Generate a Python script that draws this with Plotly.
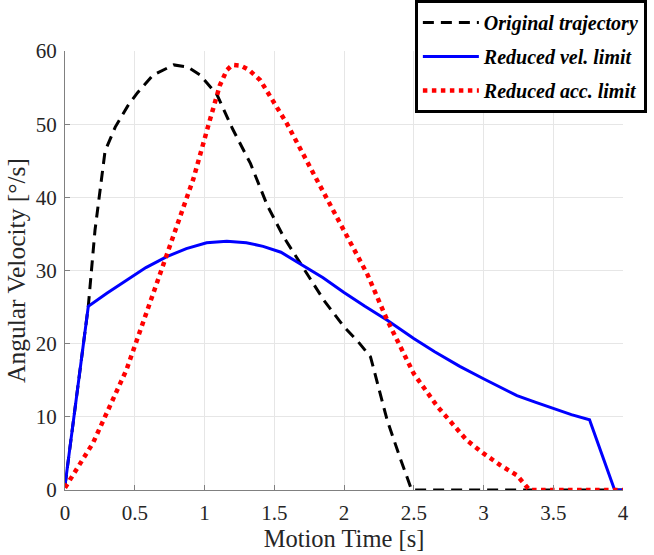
import plotly.graph_objects as go

# Original trajectory
orig_t = [0.0, 0.167, 0.215, 0.287, 0.36, 0.45, 0.52, 0.63, 0.78, 0.88, 0.97, 1.09, 1.2, 1.33, 1.45, 1.57, 1.69, 1.857, 2.0, 2.1, 2.19, 2.31, 2.4, 2.485, 2.6, 3.0, 3.5, 4.0]
orig_v = [0.6, 25.1, 35.5, 46.3, 49.6, 52.5, 54.3, 56.7, 58.1, 57.8, 56.7, 54.0, 49.4, 44.6, 38.9, 34.5, 30.9, 25.9, 22.3, 20.3, 18.2, 9.5, 4.5, 0.0, 0.0, 0.0, 0.0, 0.0]

# Reduced vel. limit
vel_t = [0.0, 0.167, 0.3, 0.44, 0.58, 0.73, 0.87, 1.015, 1.16, 1.3, 1.42, 1.548, 1.69, 1.85, 2.0, 2.15, 2.31, 2.5, 2.65, 2.83, 3.0, 3.12, 3.24, 3.37, 3.5, 3.63, 3.76, 3.94, 4.0]
vel_v = [0.6, 25.1, 26.9, 28.7, 30.4, 31.9, 33.0, 33.8, 34.0, 33.8, 33.3, 32.5, 30.9, 29.0, 27.0, 25.1, 23.2, 20.7, 18.9, 16.9, 15.2, 14.0, 12.9, 12.0, 11.1, 10.3, 9.6, 0.0, 0.0]

# Reduced acc. limit
acc_t = [0.0, 0.2, 0.44, 0.56, 0.68, 0.79, 0.92, 1.03, 1.11, 1.16, 1.2, 1.26, 1.32, 1.4, 1.59, 1.78, 1.92, 2.0, 2.167, 2.31, 2.5, 2.67, 2.81, 2.88, 3.0, 3.12, 3.24, 3.33, 3.5, 4.0]
acc_v = [0.3, 6.4, 16.4, 23.0, 29.6, 35.5, 42.5, 50.0, 55.3, 57.4, 58.1, 58.0, 57.4, 56.0, 50.1, 43.3, 38.3, 35.5, 29.5, 23.2, 15.9, 11.4, 8.2, 6.8, 5.0, 3.4, 2.0, 0.0, 0.0, 0.0]

x_ticks = [0, 0.5, 1, 1.5, 2, 2.5, 3, 3.5, 4]
y_ticks = [0, 10, 20, 30, 40, 50, 60]

FONT = "Liberation Serif"

fig = go.Figure()
fig.add_trace(go.Scatter(x=orig_t, y=orig_v, mode="lines", name="Original trajectory", legendgroup="a",
                         line=dict(color="black", width=3, dash="11px,7px"), cliponaxis=False))
fig.add_trace(go.Scatter(x=vel_t, y=vel_v, mode="lines", name="Reduced vel. limit", legendgroup="b",
                         line=dict(color="#0000ff", width=3), cliponaxis=False))
fig.add_trace(go.Scatter(x=acc_t, y=acc_v, mode="lines", name="Reduced acc. limit", legendgroup="c",
                         line=dict(color="#ff0000", width=4.5, dash="4.5px,4.5px"), cliponaxis=False))

fig.update_layout(
    width=654, height=555,
    margin=dict(l=65, r=31, t=51, b=65, autoexpand=False),
    plot_bgcolor="white", paper_bgcolor="white",
    font=dict(family=FONT, size=21, color="#262626"),
    showlegend=True,
    legend=dict(
        x=0.627, y=1.116, xanchor="left", yanchor="top",
        bgcolor="white", bordercolor="black", borderwidth=3,
        font=dict(family=FONT, size=20, color="black", weight="bold", style="italic"),
        tracegroupgap=5, itemwidth=56,
    ),
    xaxis=dict(
        range=[0, 4], tickvals=x_ticks, ticktext=[str(v) for v in x_ticks],
        showgrid=True, gridcolor="#e6e6e6", gridwidth=1,
        showline=True, linecolor="#808080", linewidth=1,
        ticks="inside", ticklen=5, tickcolor="#808080",
        zeroline=False, ticklabelstandoff=4,
        title=dict(text="Motion Time [s]", font=dict(size=24.5), standoff=0),
    ),
    yaxis=dict(
        range=[0, 60], tickvals=y_ticks,
        showgrid=True, gridcolor="#e6e6e6", gridwidth=1,
        showline=True, linecolor="#808080", linewidth=1,
        ticks="inside", ticklen=5, tickcolor="#808080",
        zeroline=False, ticklabelstandoff=3,
        title=dict(text="Angular Velocity [°/s]", font=dict(size=25.5), standoff=2),
    ),
)

fig.write_html("out.html", config={"displayModeBar": False},
               post_script="document.body.style.margin='0';")
